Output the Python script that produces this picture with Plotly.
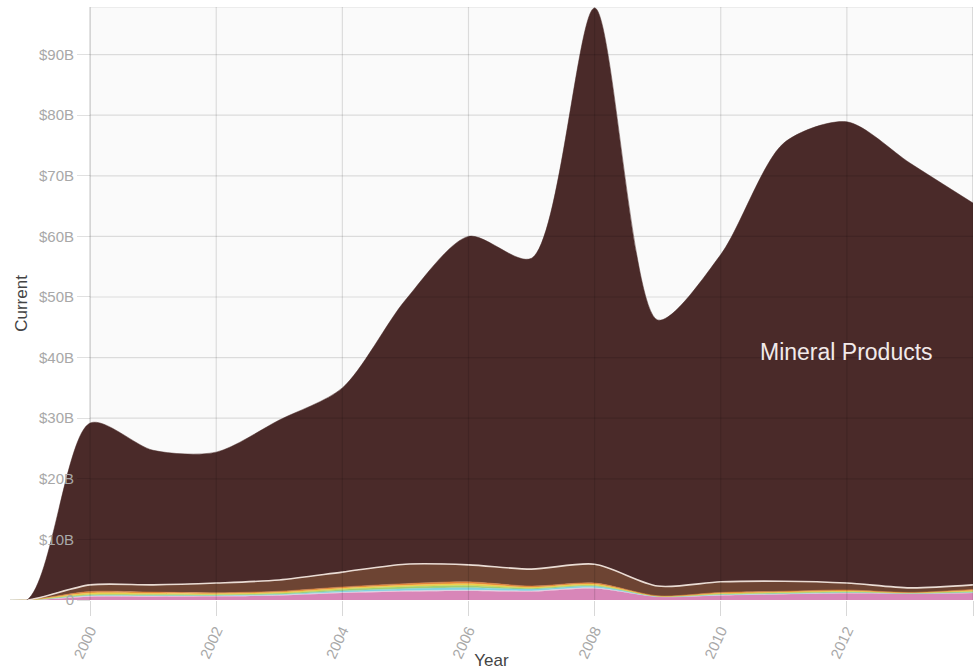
import plotly.graph_objects as go

years = list(range(1998, 2015))

# values in billions of USD (per product section, stacked bottom -> top)
chemical = [0, 0, 0.55, 0.55, 0.60, 0.75, 1.15, 1.40, 1.50, 1.40, 1.90, 0.55, 0.75, 0.95, 1.10, 1.05, 1.15]
plastics = [0, 0, 0.10, 0.10, 0.08, 0.08, 0.10, 0.12, 0.12, 0.10, 0.10, 0.02, 0.06, 0.06, 0.06, 0.03, 0.06]
machines = [0, 0, 0.10, 0.10, 0.08, 0.12, 0.25, 0.35, 0.40, 0.30, 0.25, 0.03, 0.08, 0.08, 0.08, 0.03, 0.08]
vegetable = [0, 0, 0.15, 0.15, 0.12, 0.15, 0.25, 0.30, 0.35, 0.15, 0.15, 0.03, 0.10, 0.10, 0.11, 0.04, 0.10]
foodstuffs = [0, 0, 0.25, 0.20, 0.16, 0.17, 0.20, 0.25, 0.30, 0.15, 0.20, 0.03, 0.12, 0.12, 0.13, 0.05, 0.16]
animal = [0, 0, 0.25, 0.20, 0.16, 0.18, 0.20, 0.28, 0.33, 0.20, 0.20, 0.04, 0.14, 0.14, 0.17, 0.05, 0.20]
metals = [0, 0, 1.10, 1.20, 1.60, 1.85, 2.45, 3.20, 2.80, 2.80, 3.10, 1.60, 1.75, 1.65, 1.15, 0.75, 0.75]
mineral = [0, 0, 26.7, 22.2, 21.6, 26.4, 30.4, 43.6, 54.2, 51.3, 91.8, 43.9, 54.0, 72.3, 76.1, 70.1, 63.0]

series = [
    ("Chemical Products", chemical, "#d886b8", "#d886b8", 0.5),
    ("Plastics and Rubbers", plastics, "#f4d6e6", "#f4d6e6", 0.5),
    ("Machines", machines, "#7fd2df", "#7fd2df", 0.5),
    ("Vegetable Products", vegetable, "#a2d06c", "#a2d06c", 0.5),
    ("Foodstuffs", foodstuffs, "#f0d04c", "#f0d04c", 0.5),
    ("Animal Products", animal, "#e2843c", "#e2843c", 0.5),
    ("Metals", metals, "#6d4433", "#eadcd4", 1.6),
    ("Mineral Products", mineral, "#4a2a29", "#4a2a29", 0.5),
]

ytick_vals = [0, 10, 20, 30, 40, 50, 60, 70, 80, 90]
ytick_text = ["0", "$10B", "$20B", "$30B", "$40B", "$50B", "$60B", "$70B", "$80B", "$90B"]
xtick_vals = [2000, 2002, 2004, 2006, 2008, 2010, 2012, 2014]

x0, x1 = 1998.73, 2014.0
y_top = 97.85
grid_col = "rgba(0,0,0,0.12)"

fig = go.Figure()
for name, vals, fill, line, lw in series:
    fig.add_trace(go.Scatter(
        x=years, y=[v * 1e9 for v in vals], name=name,
        stackgroup="one", mode="lines",
        line=dict(color=line, width=lw, shape="spline", smoothing=0.8),
        fillcolor=fill,
        hovertemplate=name + "<br>%{x}: $%{y:.3s}<extra></extra>",
    ))

shapes = [dict(type="rect", xref="x", yref="y", x0=2000, x1=x1, y0=0, y1=y_top * 1e9,
               fillcolor="#fafafa", line=dict(color="#dddddd", width=1), layer="below")]
for v in ytick_vals[1:]:
    shapes.append(dict(type="line", xref="x", yref="y", x0=2000, x1=x1, y0=v * 1e9, y1=v * 1e9,
                       line=dict(color=grid_col, width=1.2), layer="above"))
for v in xtick_vals:
    shapes.append(dict(type="line", xref="x", yref="y", x0=v, x1=v, y0=0, y1=y_top * 1e9,
                       line=dict(color=grid_col, width=1.2), layer="above"))

fig.update_layout(
    width=974, height=670,
    margin=dict(l=10, r=1, t=7, b=70, autoexpand=False),
    paper_bgcolor="white", plot_bgcolor="white",
    showlegend=False,
    font=dict(family="Liberation Sans, Arial, sans-serif"),
    shapes=shapes,
    xaxis=dict(range=[x0, x1], tickvals=xtick_vals, ticks="outside", ticklen=15,
               tickcolor="#d8d8d8", tickwidth=1.2, tickangle=-65, showgrid=False, zeroline=False,
               showline=False, automargin=False, tickfont=dict(size=15, color="#a8a8a8"),
               title=dict(text="Year", font=dict(size=17, color="#444444"), standoff=0)),
    yaxis=dict(range=[0, y_top * 1e9], anchor="free", position=(2000 - x0) / (x1 - x0),
               tickvals=[v * 1e9 for v in ytick_vals], ticktext=ytick_text,
               ticks="outside", ticklen=13, tickcolor=grid_col, tickwidth=1.2,
               showgrid=False, zeroline=False, showline=False, automargin=False,
               tickfont=dict(size=15, color="#a8a8a8"),
               title=dict(text="Current", font=dict(size=17, color="#444444"), standoff=6)),
    annotations=[dict(x=2012, y=40.9e9, xref="x", yref="y", text="Mineral Products",
                      showarrow=False, font=dict(size=23, color="#f2eaea"))],
)

fig.write_html("out.html", config={"displayModeBar": False},
               post_script="document.body.style.margin='0';document.body.style.overflow='hidden';")
